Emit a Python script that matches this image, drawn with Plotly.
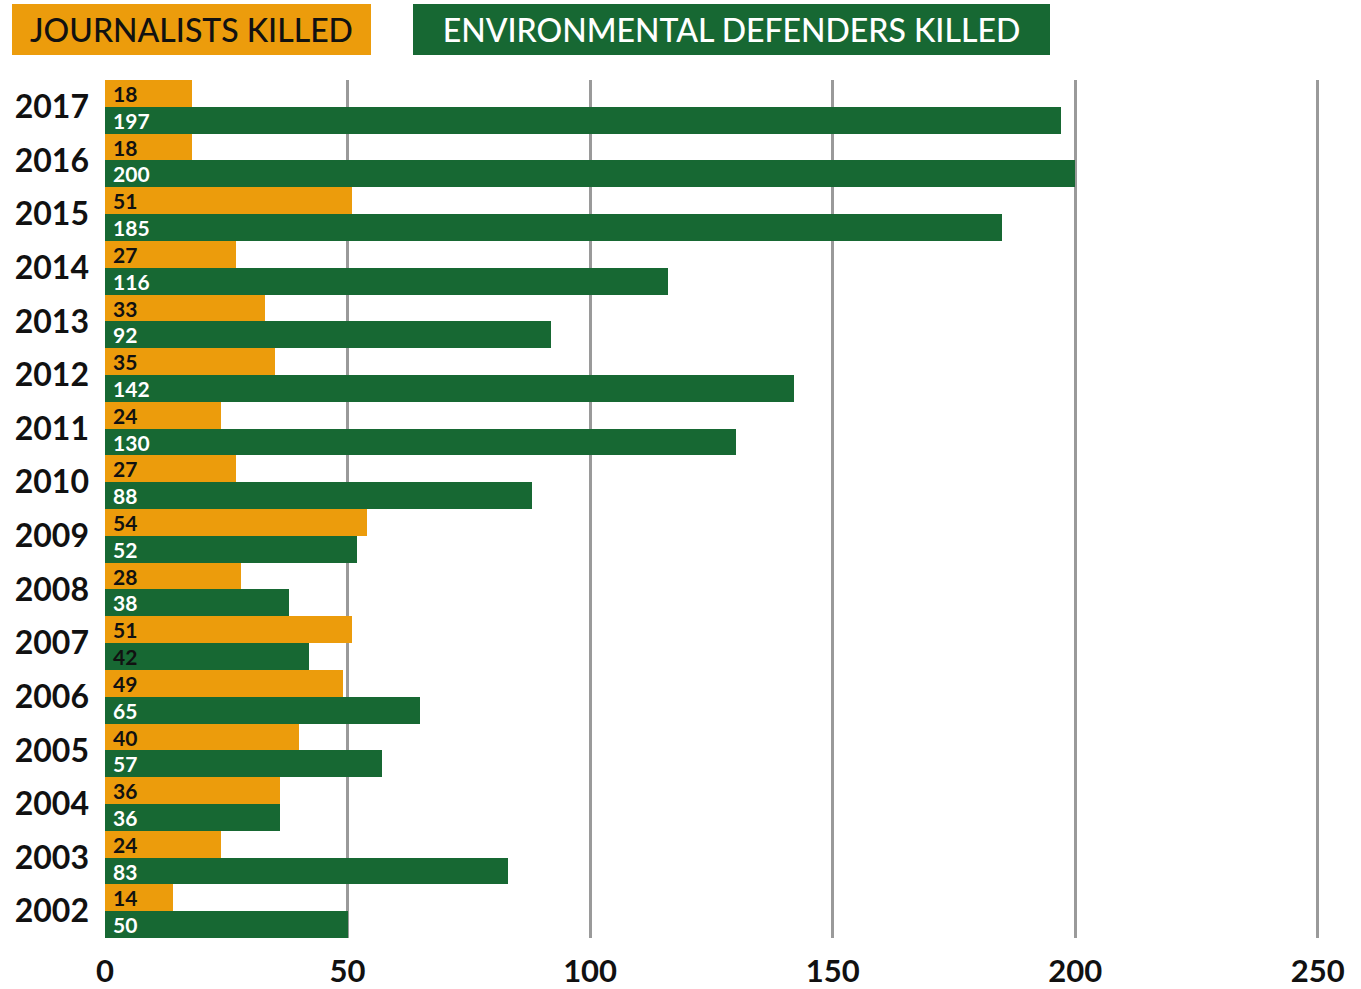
import plotly.graph_objects as go

years = ["2017", "2016", "2015", "2014", "2013", "2012", "2011", "2010",
         "2009", "2008", "2007", "2006", "2005", "2004", "2003", "2002"]
journalists = [18, 18, 51, 27, 33, 35, 24, 27, 54, 28, 51, 49, 40, 36, 24, 14]
defenders = [197, 200, 185, 116, 92, 142, 130, 88, 52, 38, 42, 65, 57, 36, 83, 50]
defender_label_colors = ["white"] * len(years)
defender_label_colors[years.index("2007")] = "#111111"

ORANGE = "#EC9C0C"
GREEN = "#176833"
FONT = "Lato"

L, T, R, B = 105, 80, 19, 51

fig = go.Figure()
fig.add_trace(go.Bar(
    y=years, x=journalists, orientation="h", name="Journalists killed",
    marker=dict(color=ORANGE, line=dict(width=0)),
    text=[" " + str(v) for v in journalists], textposition="inside",
    insidetextanchor="start", constraintext="none", textangle=0,
    textfont=dict(family=FONT, size=21, color="#111111", weight=700),
))
fig.add_trace(go.Bar(
    y=years, x=defenders, orientation="h", name="Environmental defenders killed",
    marker=dict(color=GREEN, line=dict(width=0)),
    text=[" " + str(v) for v in defenders], textposition="inside",
    insidetextanchor="start", constraintext="none", textangle=0,
    textfont=dict(family=FONT, size=21, color=defender_label_colors, weight=700),
))

fig.update_layout(
    width=1361, height=989,
    margin=dict(l=L, r=R, t=T, b=B),
    paper_bgcolor="white", plot_bgcolor="white",
    barmode="group", bargap=0, bargroupgap=0,
    showlegend=False,
    xaxis=dict(range=[0, 255], tick0=0, dtick=50, showgrid=True,
               gridcolor="#9a9a9a", gridwidth=2.5, zeroline=False,
               showline=False, ticks="", ticklabelstandoff=12, automargin=False,
               tickfont=dict(family=FONT, size=31, color="#111111", weight=700)),
    yaxis=dict(type="category", categoryorder="array", categoryarray=years,
               autorange="reversed", showgrid=False, zeroline=False,
               showline=False, ticks="", ticklabelstandoff=15, automargin=False,
               tickfont=dict(family=FONT, size=32, color="#111111", weight=700)),
    annotations=[
        dict(text="JOURNALISTS KILLED", xref="paper", yref="paper",
             x=0, y=1, xanchor="left", yanchor="top",
             xshift=12 - L, yshift=T - 4, width=359, height=51,
             bgcolor=ORANGE, borderpad=0, borderwidth=0, showarrow=False,
             align="center", valign="middle",
             font=dict(family=FONT, size=32, color="#111111", weight=500)),
        dict(text="ENVIRONMENTAL DEFENDERS KILLED", xref="paper", yref="paper",
             x=0, y=1, xanchor="left", yanchor="top",
             xshift=413 - L, yshift=T - 4, width=637, height=51,
             bgcolor=GREEN, borderpad=0, borderwidth=0, showarrow=False,
             align="center", valign="middle",
             font=dict(family=FONT, size=32, color="white", weight=500)),
    ],
)

fig.write_html("out.html")
